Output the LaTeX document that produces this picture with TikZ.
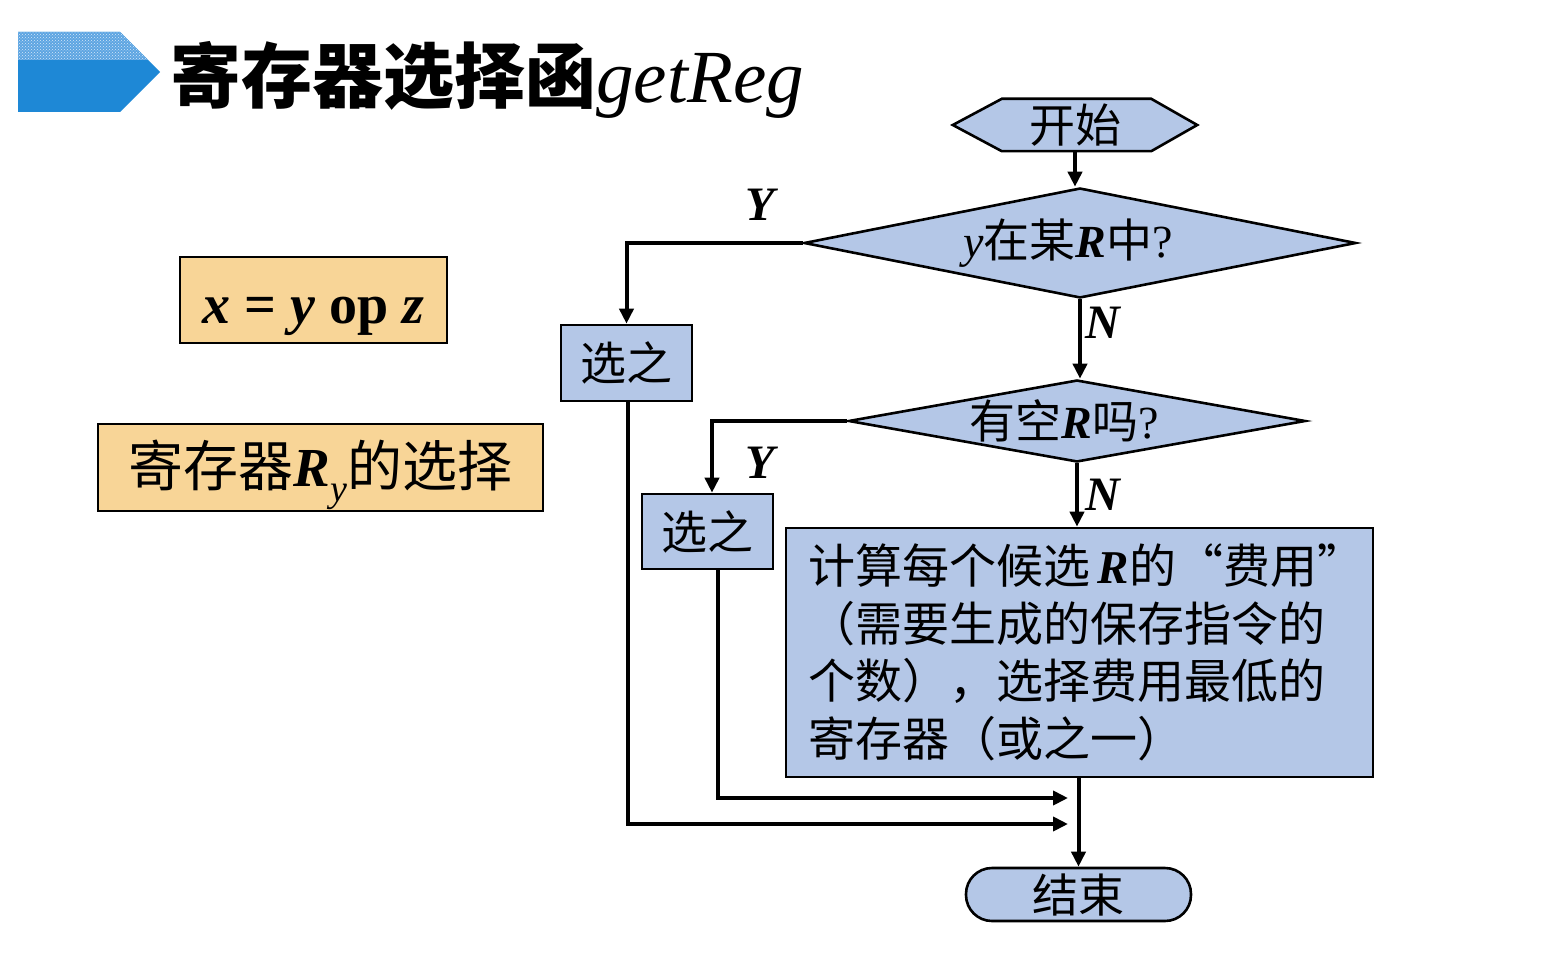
\documentclass[tikz,border=0pt]{standalone}
\usepackage{fontspec}
\setmainfont{Liberation Serif}
\newfontfamily\cjk{Noto Sans CJK SC}
\usetikzlibrary{arrows.meta,backgrounds,patterns,shapes.geometric}
\definecolor{flowblue}{HTML}{B4C7E7}
\definecolor{boxorange}{HTML}{F8D597}
\definecolor{iconblue}{HTML}{1E88D6}
\definecolor{iconlight}{HTML}{5DA5E2}
\tikzset{
  flowbox/.style={draw=black, line width=2.6pt, fill=flowblue, inner sep=0pt},
  orangebox/.style={draw=black, line width=1.5pt, fill=boxorange, inner sep=0pt},
  flowtext/.style={font=\fontsize{46pt}{52pt}\selectfont, inner sep=0pt},
  yn/.style={font=\fontsize{48pt}{52pt}\selectfont\bfseries\itshape, inner sep=0pt},
  arr/.style={line width=4pt, -{Triangle[length=15pt,width=14pt]}}
}
\begin{document}
\begin{tikzpicture}[x=1pt,y=-1pt]
\useasboundingbox (0,0) rectangle (1568,960);
% title icon
\fill[iconblue] (18,32) -- (120,32) -- (160,72) -- (120,112) -- (18,112) -- cycle;
\fill[iconlight] (18,32) -- (120,32) -- (148,60) -- (18,60) -- cycle;
\fill[pattern=crosshatch dots, pattern color=white!75!iconlight] (18,32) -- (120,32) -- (148,60) -- (18,60) -- cycle;
% title
\node[anchor=west, inner sep=0pt, font=\fontsize{71pt}{71pt}\selectfont] (title) at (170,80)
  {{\cjk\bfseries 寄存器选择函}{\fontsize{75pt}{75pt}\selectfont\itshape getReg}};
% orange boxes
\node[orangebox, minimum width=267pt, minimum height=86pt, text height=46pt, text depth=0pt,
      font=\fontsize{56pt}{60pt}\selectfont\bfseries] (ob1) at (313.5,300)
  {{\itshape x} = {\itshape y} op {\itshape z}};
\node[orangebox, minimum width=445pt, minimum height=87pt, text height=37pt, text depth=0pt,
      font=\fontsize{55pt}{60pt}\selectfont] (ob2) at (320.5,467.5)
  {{\cjk 寄存器}{\bfseries\itshape R}\raisebox{-15pt}{\fontsize{38pt}{40pt}\selectfont\itshape y}{\cjk 的选择}};
% start hexagon
\node[minimum width=244pt, minimum height=52pt, inner sep=0pt] (start) at (1075,125) {};
\begin{pgfonlayer}{background}
\draw[line width=2.6pt, fill=flowblue] (start.west) -- ([xshift=49pt]start.north west) -- ([xshift=-46pt]start.north east)
  -- (start.east) -- ([xshift=-46pt]start.south east) -- ([xshift=49pt]start.south west) -- cycle;
\end{pgfonlayer}
\node[flowtext] at (start) {\cjk 开始};
% decision 1
\node[flowbox, shape=diamond, minimum width=552pt, minimum height=110pt] (d1) at (1080,243) {};
\node[flowtext] at (1068,243) {{\itshape y}{\cjk 在某}{\bfseries\itshape R}{\cjk 中}?};
% decision 2
\node[flowbox, shape=diamond, minimum width=457pt, minimum height=82pt] (d2) at (1077,421) {};
\node[flowtext] at (1064,421) {{\cjk 有空}{\bfseries\itshape R}{\cjk 吗}?};
% boxes
\node[flowbox, minimum width=131pt, minimum height=76pt, flowtext] (b1) at (626.5,363) {\cjk 选之};
\node[flowbox, minimum width=131pt, minimum height=75pt, flowtext] (b2) at (707.5,531.5) {\cjk 选之};
\node[flowbox, minimum width=587pt, minimum height=249pt, text width=543pt, align=left,
      font=\fontsize{47pt}{57.5pt}\selectfont] (big) at (1079.5,652.5)
  {\mbox{{\cjk 计算每个候选}\,{\bfseries\itshape R}{\cjk 的“费用”}}\\
   \mbox{\cjk （需要生成的保存指令的}\\
   \mbox{\cjk 个数），选择费用最低的}\\
   \mbox{\cjk 寄存器（或之一）}};
% end
\node[draw=black, line width=2.6pt, fill=flowblue, rounded corners=26pt, minimum width=225pt, minimum height=53pt,
      flowtext] (end) at (1078.5,894.5) {\cjk 结束};
% merge points
\coordinate (m1) at (1068,798);
\coordinate (m2) at (1068,824);
% connectors
\draw[arr] (start.south) -- (start.south |- d1.north);
\draw[arr] (d1.south) -- (d1.south |- d2.north);
\draw[arr] (d2.south) -- (d2.south |- big.north);
\draw[arr] (d1.west) -| (b1.north);
\draw[arr] (d2.west) -| ([xshift=4.5pt]b2.north);
\draw[arr] ([xshift=10.5pt]b2.south) |- (m1);
\draw[arr] ([xshift=1.5pt]b1.south) |- (m2);
\draw[arr] (big.south -| end.north) -- (end.north);
% labels
\node[yn] (y1) at (760,205) {Y};
\node[yn] (n1) at (1103,323) {N};
\node[yn] (y2) at (760,463) {Y};
\node[yn] (n2) at (1103,495) {N};
\end{tikzpicture}
\end{document}
